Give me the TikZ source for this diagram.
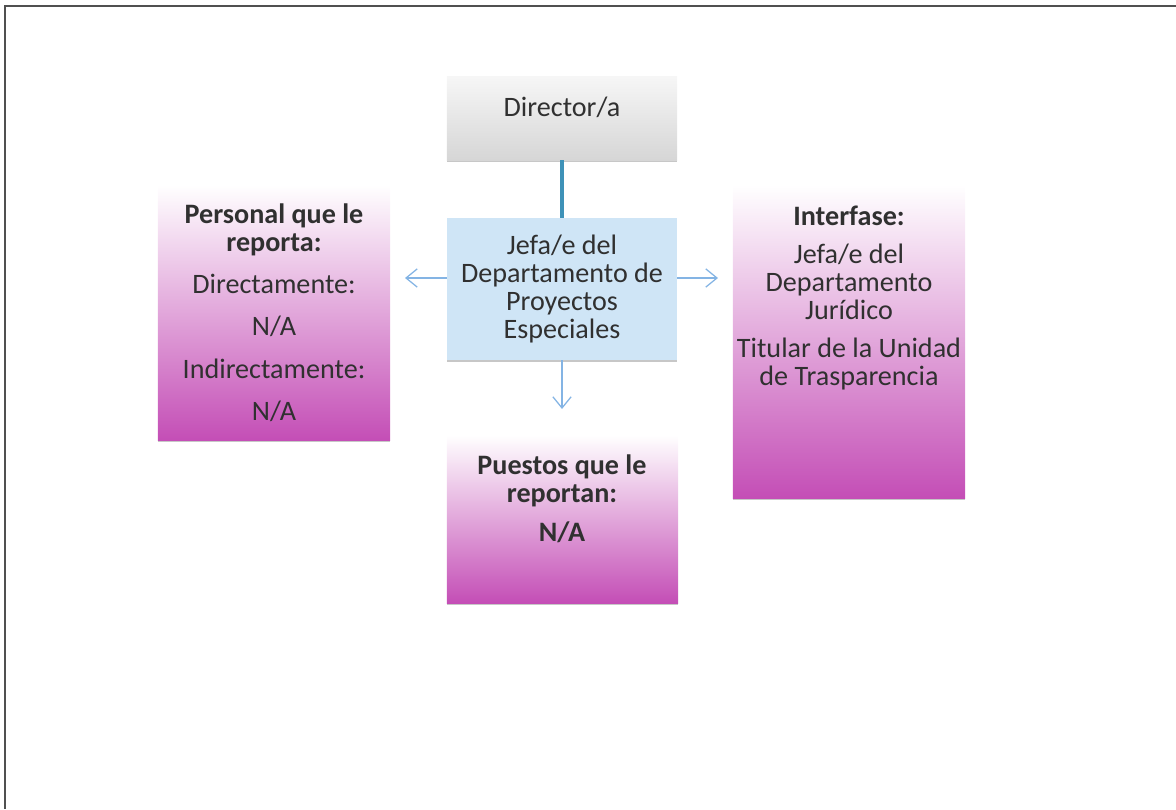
\documentclass[tikz,border=0pt]{standalone}
\usepackage{fontspec}
\setmainfont{Carlito}
\usetikzlibrary{arrows.meta,shadows}
\definecolor{ink}{RGB}{48,48,48}
\definecolor{marco}{RGB}{80,80,80}
\definecolor{grisTop}{RGB}{246,246,246}
\definecolor{grisBot}{RGB}{214,214,214}
\definecolor{azul}{RGB}{207,229,246}
\definecolor{rosa}{RGB}{196,78,182}
\definecolor{celeste}{RGB}{132,180,228}
\definecolor{verdeazul}{RGB}{62,146,184}
\newcommand\boxfont{\fontsize{20}{20}\selectfont}
\begin{document}
\begin{tikzpicture}[x=0.025cm, y=-0.025cm,
  box/.style={rectangle, inner sep=0pt, minimum width=5.75cm, align=center, text=ink, font=\boxfont},
  sombra/.style={drop shadow={shadow xshift=0pt, shadow yshift=-1.2pt, fill=black, opacity=0.22}},
  greybox/.style={box, sombra, top color=grisTop, bottom color=grisBot},
  bluebox/.style={box, sombra, fill=azul},
  pinkbox/.style={box, sombra, top color=white, bottom color=rosa},
  txt/.style={inner sep=0pt, align=center, text=ink, font=\boxfont},
  flecha/.style={-{Straight Barb[length=8pt,width=13pt]}, draw=celeste, line width=0.9pt},
  enlace/.style={draw=verdeazul, line width=3pt}
]
\useasboundingbox (0,0) rectangle (1176,809);
\draw[line width=2pt, draw=marco] (1176,6) -- (5,6) -- (5,809);

\node[greybox, minimum height=2.075cm] (director) at (562,118.5) {};
\node[txt] (director-txt) at (562,107) {Director/a};

\node[bluebox, minimum height=3.55cm] (jefe) at (562,289) {Jefa/e del\\Departamento de\\Proyectos\\Especiales};

\node[pinkbox, minimum width=5.8cm, minimum height=6.375cm] (reporta) at (274,312.5)
  {\textbf{Personal que le}\\\textbf{reporta:}\\[10pt]Directamente:\\[10pt]N/A\\[10pt]Indirectamente:\\[10pt]N/A};

\node[pinkbox, minimum width=5.8cm, minimum height=7.825cm] (interfase) at (849,341.5) {};
\node[txt] (interfase-txt) at (849,298)
  {\textbf{Interfase:}\\[7pt]Jefa/e del\\Departamento\\Jurídico\\[7pt]Titular de la Unidad\\de Trasparencia};

\node[pinkbox, minimum width=5.775cm, minimum height=4.2cm] (puestos) at (562.5,519) {};
\node[txt] (puestos-txt) at (562,499)
  {\textbf{Puestos que le}\\\textbf{reportan:}\\[8pt]\textbf{N/A}};

\coordinate (izq) at (405,278);
\coordinate (der) at (718,278);
\coordinate (abajo) at (562,409);

\draw[enlace] (director) -- (jefe);
\draw[flecha] (jefe.west |- izq) -- (izq);
\draw[flecha] (jefe.east |- der) -- (der);
\draw[flecha] (jefe.south) -- (abajo);
\end{tikzpicture}
\end{document}
